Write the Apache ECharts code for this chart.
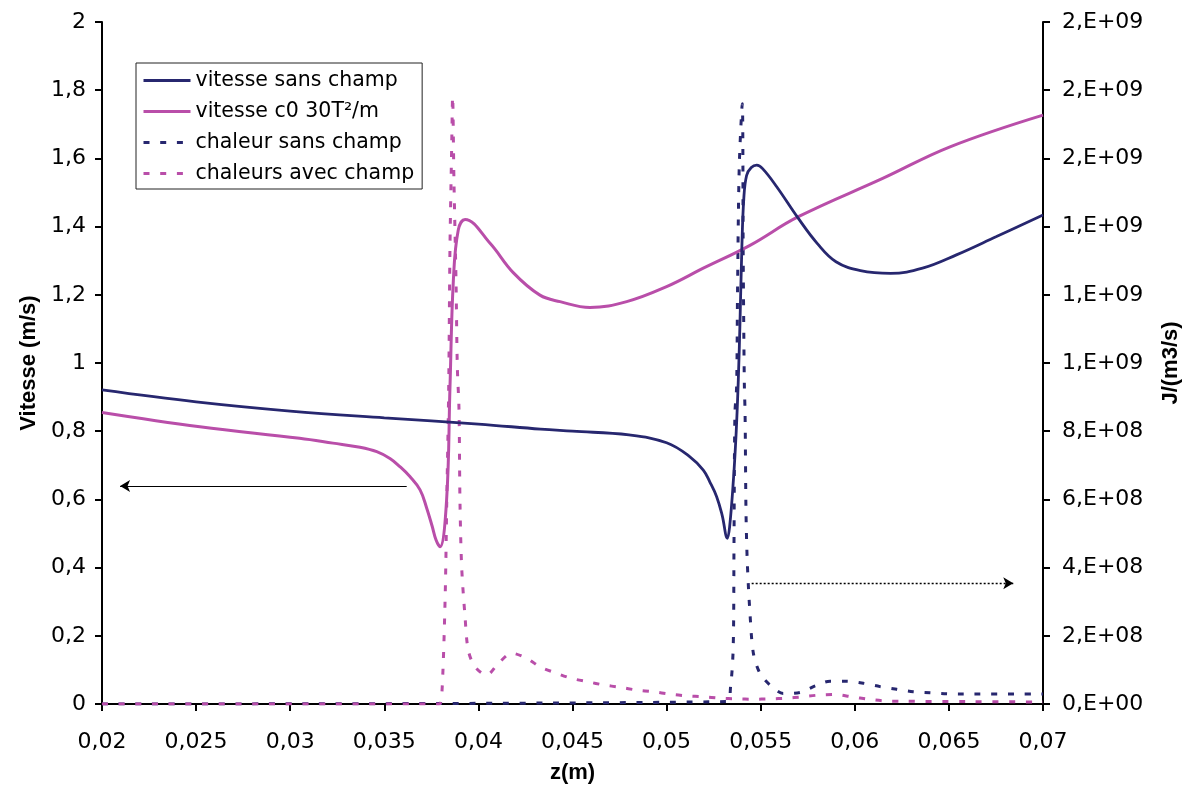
<!DOCTYPE html>
<html><head><meta charset="utf-8">
<script src="https://cdn.jsdelivr.net/npm/echarts@6/dist/echarts.min.js"></script>
<style>html,body{margin:0;padding:0;background:#fff}#c{width:1182px;height:789px}</style>
</head><body><div id="c"></div>
<script>
// ---- data ----
const seriesNames = ['vitesse sans champ', 'vitesse c0 30T²/m', 'chaleur sans champ', 'chaleurs avec champ'];

const vitesseSansZ = [0.02,0.025,0.03,0.035,0.04,0.0433,0.045,0.048,0.05,0.05124,0.05195,0.0523,0.05266,0.05295,0.05323,0.05335,0.05355,0.0537,0.05381,0.0539,0.054,0.0541,0.05425,0.0545,0.05479,0.0551,0.05585,0.057,0.058,0.059,0.0603,0.0619,0.0636,0.0654,0.0675,0.07];
const vitesseSans  = [0.921,0.886,0.859,0.839,0.821,0.806,0.800,0.789,0.766,0.725,0.686,0.651,0.608,0.554,0.486,0.52,0.657,0.80,0.95,1.12,1.34,1.48,1.55,1.573,1.58,1.57,1.517,1.424,1.351,1.297,1.271,1.263,1.278,1.317,1.370,1.434];

const vitesseChampZ = [0.02,0.0252,0.0305,0.03227,0.03371,0.0346,0.0353,0.03583,0.03636,0.0369,0.03725,0.03754,0.03775,0.03796,0.03831,0.03849,0.03867,0.03893,0.03929,0.04062,0.04185,0.04327,0.04434,0.04593,0.04788,0.05,0.05195,0.05443,0.057,0.06151,0.06506,0.07];
const vitesseChamp  = [0.855,0.813,0.779,0.765,0.753,0.740,0.720,0.696,0.667,0.628,0.575,0.522,0.481,0.461,0.598,0.93,1.243,1.39,1.421,1.351,1.265,1.199,1.180,1.163,1.180,1.224,1.278,1.345,1.429,1.542,1.634,1.727];

// heat values in units of 1e9 J/(m3/s)
const chaleurSansZ = [0.02,0.05319,0.0534,0.05354,0.05358,0.05363,0.05372,0.05377,0.05386,0.05402,0.05407,0.05413,0.05417,0.05422,0.05429,0.05443,0.05461,0.05496,0.05549,0.0562,0.05709,0.05789,0.05868,0.05957,0.06045,0.06134,0.06223,0.06311,0.064,0.06488,0.06576,0.07];
const chaleurSans  = [0,0.007,0.051,0.168,0.461,0.852,0.930,1.214,1.576,1.760,1.312,0.940,0.852,0.559,0.413,0.266,0.149,0.090,0.056,0.031,0.034,0.053,0.067,0.067,0.061,0.051,0.043,0.036,0.033,0.030,0.029,0.029];

const chaleurAvecZ = [0.02,0.03791,0.03805,0.03823,0.03832,0.03842,0.03849,0.03858,0.03863,0.0387,0.03881,0.03888,0.03897,0.03902,0.03911,0.03929,0.03946,0.03982,0.04044,0.04106,0.04177,0.04257,0.04327,0.04416,0.04496,0.04584,0.04664,0.04752,0.04841,0.04929,0.05018,0.05107,0.05195,0.05284,0.05372,0.05461,0.05549,0.05638,0.05718,0.05806,0.05895,0.05983,0.06072,0.0616,0.06249,0.066,0.07];
const chaleurAvec  = [0,0,0.021,0.305,0.598,0.92,1.341,1.634,1.781,1.537,1.243,0.989,0.862,0.598,0.403,0.256,0.158,0.109,0.085,0.119,0.149,0.134,0.109,0.090,0.075,0.065,0.056,0.049,0.041,0.036,0.029,0.024,0.021,0.017,0.015,0.014,0.015,0.017,0.021,0.026,0.028,0.021,0.014,0.009,0.008,0.007,0.006];
const heatUnit = 1e9;

const rightTickLabels = ['0,E+00','2,E+08','4,E+08','6,E+08','8,E+08','1,E+09','1,E+09','1,E+09','2,E+09','2,E+09','2,E+09'];

// annotation arrows (data coordinates on the left axis)
const arrowLeft  = [[0.03619, 0.639], [0.02096, 0.639]];
const arrowRight = [[0.05452, 0.354], [0.06842, 0.354]];

// ---- chart ----
const BLUE = '#27276f', PINK = '#b94ea9';
const zip = (xs, ys, k) => xs.map((x, i) => [x, ys[i] * (k || 1)]);
const tickFont = 'DejaVu Sans';
const nameFont = 'Liberation Sans';

const chart = echarts.init(document.getElementById('c'), null, {renderer: 'canvas'});
chart.setOption({
  animation: false,
  backgroundColor: '#fff',
  grid: {left: 102, right: 139, top: 22, bottom: 85, containLabel: false, outerBoundsMode: 'none'},
  legend: {
    orient: 'vertical', left: 136, top: 63,
    padding: [7, 8, 5, 6], itemGap: 10, itemWidth: 47, itemHeight: 14,
    borderColor: '#222', borderWidth: 1, backgroundColor: '#fff',
    itemStyle: {opacity: 0},
    lineStyle: {width: 3},
    textStyle: {fontFamily: tickFont, fontSize: 20.5, color: '#000', lineHeight: 20},
    data: seriesNames
  },
  xAxis: {
    type: 'value', min: 0.02, max: 0.07, interval: 0.005,
    name: 'z(m)', nameLocation: 'middle', nameGap: 58,
    nameTextStyle: {fontFamily: nameFont, fontWeight: 'bold', fontSize: 22, color: '#000'},
    axisLine: {show: true, onZero: false, lineStyle: {color: '#000', width: 2}},
    axisTick: {show: true, inside: false, length: 7, lineStyle: {color: '#000', width: 2}},
    splitLine: {show: false},
    axisLabel: {margin: 27, fontFamily: tickFont, fontSize: 22, color: '#000',
      formatter: v => String(parseFloat(v.toFixed(4))).replace('.', ',')}
  },
  yAxis: [{
    type: 'value', min: 0, max: 2, interval: 0.2, position: 'left',
    name: 'Vitesse (m/s)', nameLocation: 'middle', nameGap: 60,
    nameTextStyle: {fontFamily: nameFont, fontWeight: 'bold', fontSize: 22, color: '#000'},
    axisLine: {show: true, lineStyle: {color: '#000', width: 2}},
    axisTick: {show: true, inside: false, length: 7, lineStyle: {color: '#000', width: 2}},
    splitLine: {show: false},
    axisLabel: {margin: 16, fontFamily: tickFont, fontSize: 22, color: '#000',
      formatter: v => String(parseFloat(v.toFixed(2))).replace('.', ',')}
  }, {
    type: 'value', min: 0, max: 2 * heatUnit, interval: 0.2 * heatUnit, position: 'right',
    name: 'J/(m3/s)', nameLocation: 'middle', nameGap: 117,
    nameTextStyle: {fontFamily: nameFont, fontWeight: 'bold', fontSize: 22, color: '#000'},
    axisLine: {show: true, lineStyle: {color: '#000', width: 2}},
    axisTick: {show: true, inside: false, length: 7, lineStyle: {color: '#000', width: 2}},
    splitLine: {show: false},
    axisLabel: {margin: 19, fontFamily: tickFont, fontSize: 22, color: '#000',
      formatter: v => rightTickLabels[Math.round(v / (0.2 * heatUnit))]}
  }],
  series: [{
    name: seriesNames[0], type: 'line', yAxisIndex: 0, showSymbol: false, symbol: 'none',
    smooth: 0.4, z: 4,
    lineStyle: {color: BLUE, width: 2.8}, itemStyle: {color: BLUE},
    data: zip(vitesseSansZ, vitesseSans),
    markLine: {
      silent: true, animation: false, symbol: ['none', 'arrow'], symbolSize: [9, 10],
      label: {show: false}, emphasis: {disabled: true},
      lineStyle: {color: '#000', width: 1.2, type: 'solid'},
      data: [
        [{coord: arrowLeft[0]}, {coord: arrowLeft[1]}],
        [{coord: arrowRight[0], lineStyle: {type: [2, 2], width: 1.3, color: '#000'}}, {coord: arrowRight[1]}]
      ]
    }
  }, {
    name: seriesNames[1], type: 'line', yAxisIndex: 0, showSymbol: false, symbol: 'none',
    smooth: 0.4, z: 3,
    lineStyle: {color: PINK, width: 3}, itemStyle: {color: PINK},
    data: zip(vitesseChampZ, vitesseChamp)
  }, {
    name: seriesNames[2], type: 'line', yAxisIndex: 1, showSymbol: false, symbol: 'none',
    smooth: 0.3, z: 2,
    lineStyle: {color: BLUE, width: 3, type: [6, 10.7]}, itemStyle: {color: BLUE},
    data: zip(chaleurSansZ, chaleurSans, heatUnit)
  }, {
    name: seriesNames[3], type: 'line', yAxisIndex: 1, showSymbol: false, symbol: 'none',
    smooth: 0.3, z: 2,
    lineStyle: {color: PINK, width: 3, type: [6, 10.7]}, itemStyle: {color: PINK},
    data: zip(chaleurAvecZ, chaleurAvec, heatUnit)
  }]
});
</script></body></html>
